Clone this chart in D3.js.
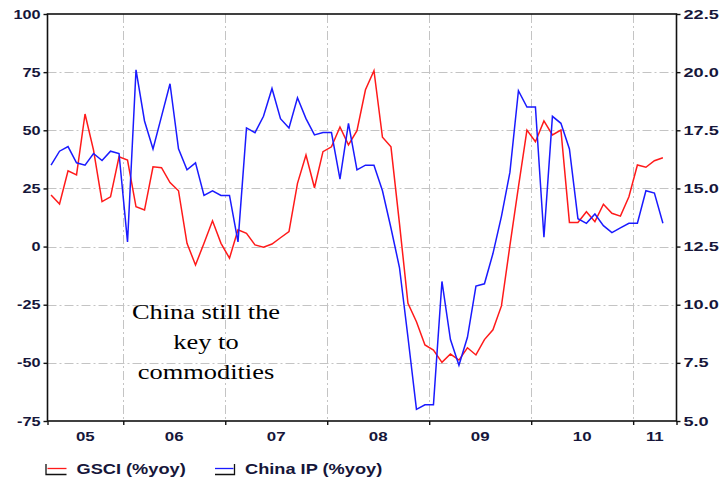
<!DOCTYPE html>
<html>
<head>
<meta charset="utf-8">
<script src="https://cdn.jsdelivr.net/npm/d3@7"></script>
<style>
  html, body { margin: 0; padding: 0; background: #fff; }
  svg { display: block; }
</style>
</head>
<body>
<div id="chart"></div>
<script>
// ---------------- DATA ----------------
const firstMonth = new Date(2005, 3, 1);   // Apr 2005
const lastMonth  = new Date(2011, 3, 1);   // Apr 2011
const months = d3.timeMonth.range(firstMonth, d3.timeMonth.offset(lastMonth, 1));

const gsci = [22.2, 18.3, 32.6, 30.8, 57.0, 41.5, 19.3, 21.4, 38.6, 37.2,
              17.1, 15.7, 34.3, 33.9, 27.5, 24.0, 1.4, -7.9, 1.4, 11.1,
              1.4, -5.0, 7.2, 5.7, 0.7, -0.3, 1.1, 3.8, 6.4, 27.2,
              39.4, 25.3, 40.8, 42.9, 51.4, 43.7, 49.8, 67.4, 75.6, 47.0,
              42.9, 10.0, -24.4, -32.3, -42.3, -44.5, -49.8, -46.2, -48.8, -43.5,
              -46.6, -40.0, -35.8, -25.5, 0.5, 25.7, 50.1, 45.1, 54.0, 48.0,
              50.1, 10.4, 10.4, 15.0, 10.7, 18.2, 14.3, 13.1, 21.4, 35.1,
              34.1, 36.9, 38.2];

const chinaIP = [16.0, 16.6, 16.8, 16.1, 16.0, 16.5, 16.2, 16.6, 16.5, 12.7,
                 20.1, 17.9, 16.7, 18.1, 19.5, 16.7, 15.8, 16.1, 14.7, 14.9,
                 14.7, 14.7, 12.7, 17.6, 17.4, 18.1, 19.3, 18.0, 17.6, 18.9,
                 18.0, 17.3, 17.4, 17.4, 15.4, 17.8, 15.8, 16.0, 16.0, 14.9,
                 13.3, 11.6, 8.6, 5.5, 5.7, 5.7, 11.0, 8.5, 7.4, 8.6,
                 10.8, 10.9, 12.2, 13.8, 15.7, 19.2, 18.5, 18.5, 12.9, 18.1,
                 17.8, 16.7, 13.7, 13.5, 13.9, 13.4, 13.1, 13.3, 13.5, 13.5,
                 14.9, 14.8, 13.5];

const leftTicks  = [100, 75, 50, 25, 0, -25, -50, -75];
const rightTicks = [22.5, 20.0, 17.5, 15.0, 12.5, 10.0, 7.5, 5.0];
const yearBounds = [2006, 2007, 2008, 2009, 2010, 2011];
const yearLabels = ["05", "06", "07", "08", "09", "10", "11"];
const seriesNames = ["GSCI (%yoy)", "China IP (%yoy)"];
const noteLines = ["China still the", "key to", "commodities"];

// ---------------- LAYOUT ----------------
const W = 724, H = 479;
const L = 47.5, R = 676.5, T = 14, B = 421;
const xDomain = [2005.257, 2011.425];

const svg = d3.select("#chart").append("svg").attr("width", W).attr("height", H);

const x  = d3.scaleLinear().domain(xDomain).range([L, R]);
const yL = d3.scaleLinear().domain([-75, 100]).range([B, T]);
const yR = d3.scaleLinear().domain([5, 22.5]).range([B, T]);

const decYear = d => d.getFullYear() + (d.getMonth() + 0.5) / 12;

const labelColor = "#16163a";
const tickFont = "'Liberation Sans', Arial, sans-serif";

function stretch(sel, f) {
  sel.each(function () {
    const n = this.getComputedTextLength();
    d3.select(this).attr("textLength", n * f).attr("lengthAdjust", "spacingAndGlyphs");
  });
}

// grid
const grid = svg.append("g")
  .attr("stroke", "#c4c4c4").attr("stroke-width", 1)
  .attr("stroke-dasharray", "9,3,2,3").attr("fill", "none");
grid.selectAll("line.h").data(leftTicks.filter(d => d > -75 && d < 100)).join("line")
  .attr("x1", L).attr("x2", R)
  .attr("y1", d => Math.round(yL(d)) + 0.5).attr("y2", d => Math.round(yL(d)) + 0.5);
grid.selectAll("line.v").data(yearBounds).join("line")
  .attr("x1", d => Math.round(x(d)) + 0.5).attr("x2", d => Math.round(x(d)) + 0.5)
  .attr("y1", T).attr("y2", B);

// series
const lineL = d3.line().x((d, i) => x(decYear(months[i]))).y(d => yL(d));
const lineR = d3.line().x((d, i) => x(decYear(months[i]))).y(d => yR(d));
svg.append("path").datum(gsci).attr("d", lineL)
  .attr("fill", "none").attr("stroke", "#ff1a1a").attr("stroke-width", 1.5);
svg.append("path").datum(chinaIP).attr("d", lineR)
  .attr("fill", "none").attr("stroke", "#1a1aff").attr("stroke-width", 1.5);

// frame
svg.append("rect").attr("x", L).attr("y", T).attr("width", R - L).attr("height", B - T)
  .attr("fill", "none").attr("stroke", "#111").attr("stroke-width", 1.6);

// axes
const gL = svg.append("g").attr("transform", `translate(${L},0)`)
  .call(d3.axisLeft(yL).tickValues(leftTicks).tickSize(4).tickPadding(3).tickSizeOuter(0).tickFormat(d => d));
const gR = svg.append("g").attr("transform", `translate(${R},0)`)
  .call(d3.axisRight(yR).tickValues(rightTicks).tickSize(4).tickPadding(3).tickSizeOuter(0).tickFormat(d3.format(".1f")));
const gB = svg.append("g").attr("transform", `translate(0,${B})`)
  .call(d3.axisBottom(x).tickValues([xDomain[0], ...yearBounds, xDomain[1]]).tickSize(4).tickSizeOuter(0).tickFormat(""));

[gL, gR, gB].forEach(g => {
  g.select(".domain").remove();
  g.selectAll(".tick line").attr("stroke", "#111").attr("stroke-width", 1.4);
  g.selectAll(".tick text")
    .attr("font-family", tickFont).attr("font-weight", "bold").attr("font-size", 12.5)
    .attr("fill", labelColor);
});
stretch(gL.selectAll(".tick text"), 1.3);
stretch(gR.selectAll(".tick text"), 1.45);

// year labels, centred in each year's span
const yearStarts = [xDomain[0], ...yearBounds];
const yearEnds = [...yearBounds, xDomain[1]];
const yl = svg.append("g").selectAll("text").data(yearLabels).join("text")
  .attr("x", (d, i) => (x(yearStarts[i]) + x(yearEnds[i])) / 2)
  .attr("y", 441)
  .attr("text-anchor", "middle")
  .attr("font-family", tickFont).attr("font-weight", "bold").attr("font-size", 12.5)
  .attr("fill", labelColor)
  .text(d => d);
stretch(yl, 1.35);

// annotation
const note = svg.append("g").selectAll("text").data(noteLines).join("text")
  .attr("x", 206).attr("y", (d, i) => 319 + i * 30)
  .attr("text-anchor", "middle")
  .attr("font-family", "'Liberation Serif', 'Times New Roman', serif")
  .attr("font-size", 22).attr("fill", "#000")
  .text(d => d);
stretch(note, 1.2);

// legend
const leg = svg.append("g");
// GSCI symbol
leg.append("path").attr("d", "M46,464 V474.5 H66.5").attr("fill", "none").attr("stroke", "#111").attr("stroke-width", 1.3);
leg.append("line").attr("x1", 47.5).attr("x2", 66.5).attr("y1", 468.5).attr("y2", 468.5).attr("stroke", "#ff1a1a").attr("stroke-width", 1.3);
// China IP symbol
leg.append("path").attr("d", "M215,474.5 H234.5 V464").attr("fill", "none").attr("stroke", "#111").attr("stroke-width", 1.3);
leg.append("line").attr("x1", 215).attr("x2", 233.5).attr("y1", 468.5).attr("y2", 468.5).attr("stroke", "#1a1aff").attr("stroke-width", 1.3);
const legText = leg.selectAll("text").data(seriesNames).join("text")
  .attr("x", (d, i) => i === 0 ? 76.5 : 245)
  .attr("y", 473.5)
  .attr("font-family", tickFont).attr("font-weight", "bold").attr("font-size", 14)
  .attr("fill", labelColor)
  .text(d => d);
stretch(legText, 1.3);
</script>
</body>
</html>
